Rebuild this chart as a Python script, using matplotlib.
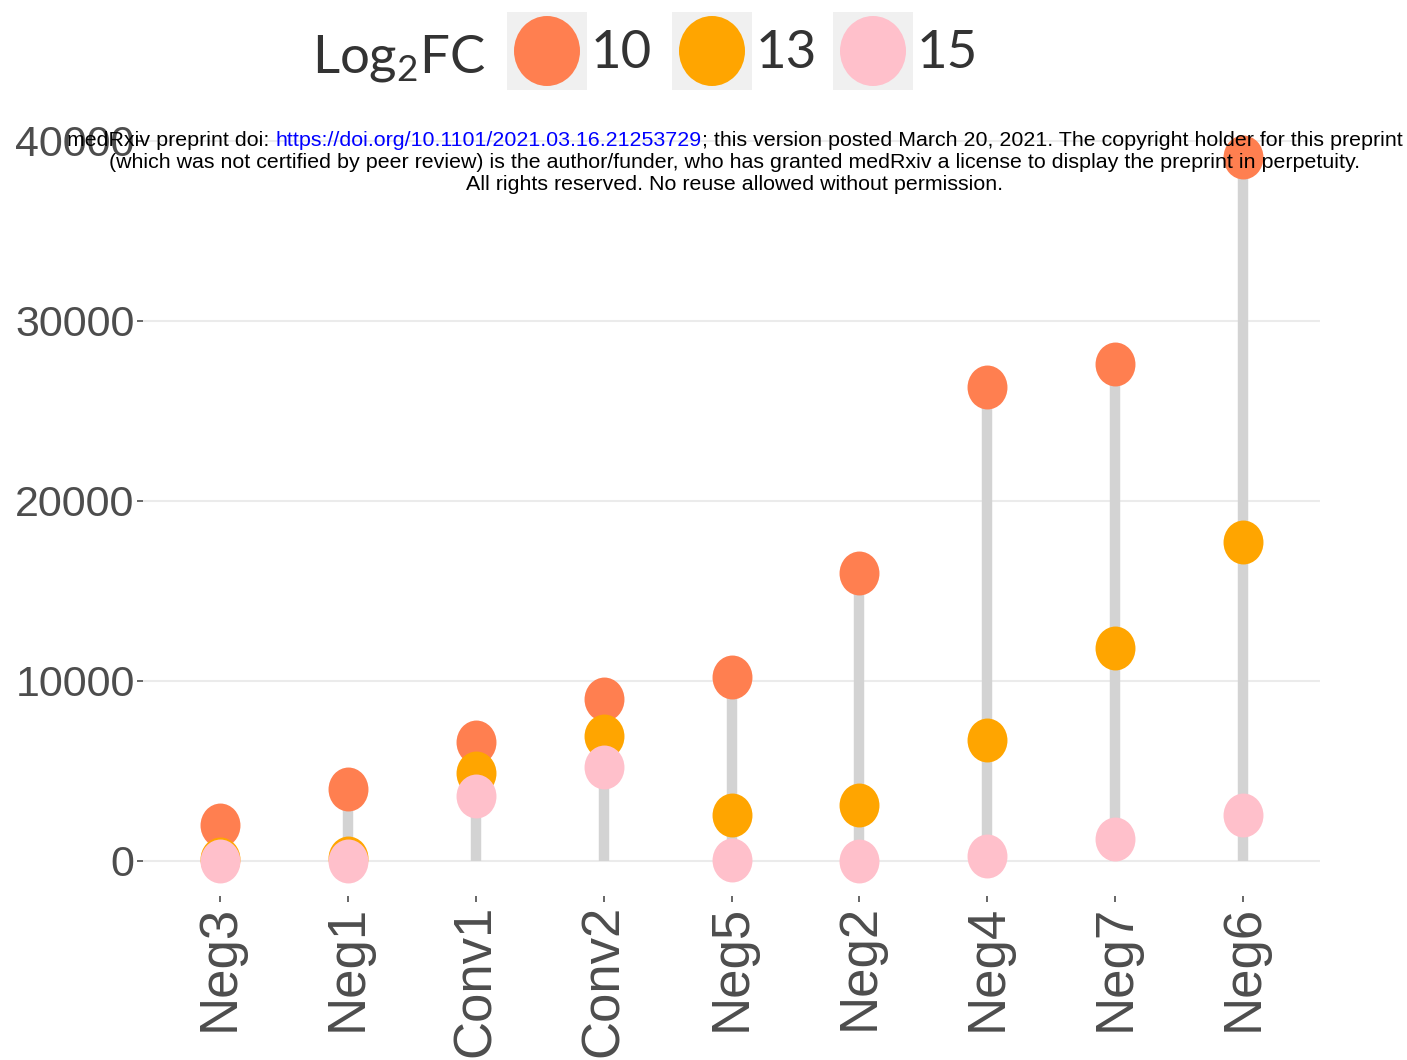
import numpy as np
import matplotlib.pyplot as plt
from matplotlib.patches import Rectangle, Ellipse
from matplotlib.markers import MarkerStyle
from matplotlib.path import Path
from matplotlib.transforms import Affine2D

# values
samples = ['Neg3', 'Neg1', 'Conv1', 'Conv2', 'Neg5', 'Neg2', 'Neg4', 'Neg7', 'Neg6']
fc10 = [2000, 4000, 6600, 9000, 10200, 16000, 26300, 27600, 39100]
fc13 = [100, 170, 4900, 6950, 2550, 3100, 6700, 11800, 17700]
fc15 = [0, 0, 3600, 5200, 50, 0, 250, 1200, 2550]
series_labels = ['10', '13', '15']
series_colors = ['coral', 'orange', 'pink']
y_ticks = [0, 10000, 20000, 30000, 40000]

W, H = 1407, 1060
plt.rcParams['mathtext.fontset'] = 'custom'
plt.rcParams['mathtext.rm'] = 'Lato'

fig = plt.figure(figsize=(W / 100, H / 100), dpi=100)
ax = fig.add_axes([143 / W, 1 - 896 / H, 1177 / W, 774 / H])

x = np.arange(len(samples))
top = np.max([fc10, fc13, fc15], axis=0)
ax.vlines(x, 0, top, color='#d3d3d3', lw=7.5, zorder=2)

oval = MarkerStyle(Path.unit_circle().transformed(Affine2D().scale(1.0, 1.1)))
for vals, c in zip([fc10, fc13, fc15], series_colors):
    ax.scatter(x, vals, s=1000, color=c, marker=oval, linewidths=0, zorder=3)

ax.set_xlim(-0.6, len(samples) - 0.4)
ax.set_ylim(-1955, 41050)
ax.set_yticks(y_ticks)
ax.set_yticklabels([str(v) for v in y_ticks])
ax.set_xticks(x)
ax.set_xticklabels(samples, rotation=90)
for s in ax.spines.values():
    s.set_visible(False)
ax.grid(axis='y', color='#ebebeb', lw=1.5, zorder=0)
ax.set_axisbelow(True)
ax.tick_params(axis='y', labelsize=31, colors='#4d4d4d', length=4, width=1.2, pad=2)
ax.tick_params(axis='x', labelsize=38, colors='#4d4d4d', length=4, width=1.2, pad=2)
for lab in ax.get_xticklabels() + ax.get_yticklabels():
    lab.set_fontfamily('Liberation Sans')


def fx(px):
    return px / W


def fy(py):
    return 1 - py / H


# legend drawn in figure pixels
fig.text(fx(312), fy(59), r'Log$_{\mathrm{2}}$FC', fontsize=38, family='Lato',
         color='#333333', ha='left', va='center')
key_left = [507, 672, 833]
for kx, lab, c in zip(key_left, series_labels, series_colors):
    fig.patches.append(Rectangle((fx(kx), fy(90)), fx(80), 78 / H, transform=fig.transFigure,
                                 facecolor='#f0f0f0', edgecolor='none'))
    fig.patches.append(Ellipse((fx(kx + 40), fy(51)), fx(66), 70 / H, transform=fig.transFigure,
                               facecolor=c, edgecolor='none'))
    fig.text(fx(kx + 84), fy(54), lab, fontsize=38, family='Lato', color='#333333',
             ha='left', va='center')

# medRxiv watermark
wm_kw = dict(fontsize=15.4, family='Liberation Sans', zorder=10)
p1 = fig.text(0, fy(141), 'medRxiv preprint doi: ', ha='left', va='center', color='black', **wm_kw)
p2 = ax.annotate('https://doi.org/10.1101/2021.03.16.21253729', xy=(1, 0), xycoords=p1,
                 ha='left', va='bottom', color='blue', annotation_clip=False, **wm_kw)
p3 = ax.annotate('; this version posted March 20, 2021. The copyright holder for this preprint',
                 xy=(1, 0), xycoords=p2, ha='left', va='bottom', color='black',
                 annotation_clip=False, **wm_kw)
fig.text(fx(735), fy(162), '(which was not certified by peer review) is the author/funder, who has '
         'granted medRxiv a license to display the preprint in perpetuity.',
         ha='center', va='center', color='black', **wm_kw)
fig.text(fx(735), fy(184), 'All rights reserved. No reuse allowed without permission.',
         ha='center', va='center', color='black', **wm_kw)

fig.canvas.draw()
r = fig.canvas.get_renderer()
total = sum(t.get_window_extent(r).width for t in (p1, p2, p3))
p1.set_x(fx(735 - total / 2))

fig.savefig('out.png', dpi=100)
